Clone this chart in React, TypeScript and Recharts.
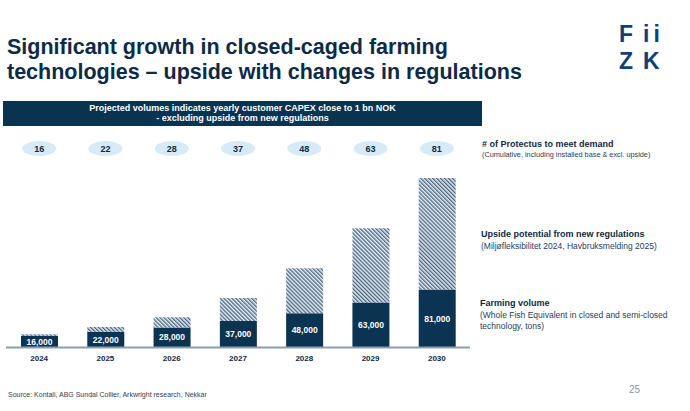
import React from "react";
import { Bar, ComposedChart, LabelList, XAxis, YAxis } from "recharts";

const years = ["2024", "2025", "2026", "2027", "2028", "2029", "2030"];
const farmingVolume = [16000, 22000, 28000, 37000, 48000, 63000, 81000];
const upsidePotential = [2600, 6800, 14300, 32300, 62700, 103600, 155900];
const protectusCount = [16, 22, 28, 37, 48, 63, 81];

const data = years.map((year, i) => ({
  year,
  farming: farmingVolume[i],
  upside: upsidePotential[i],
  protectus: protectusCount[i],
}));

const NAVY = "#0b3352";
const TEXT = "#0d2a47";
const FONT = "'Liberation Sans', Arial, sans-serif";

const OvalTick = (props: any) => {
  const { x, y, payload } = props;
  return (
    <g transform={`translate(${x},${y - 12})`}>
      <ellipse cx={0} cy={0} rx={17} ry={7.5} fill="#d6eaf8" />
      <text x={0} y={3.5} textAnchor="middle" fontSize={9} fontWeight="bold" fill={TEXT} fontFamily={FONT}>
        {payload.value}
      </text>
    </g>
  );
};

const YearTick = (props: any) => {
  const { x, y, payload } = props;
  return (
    <text x={x} y={y + 5} textAnchor="middle" fontSize={8} fontWeight="bold" fill={TEXT} fontFamily={FONT}>
      {payload.value}
    </text>
  );
};

const logoLetter = (text: string, left: number, top: number, spacing = 0) => (
  <div
    style={{
      position: "absolute",
      left,
      top,
      color: "#123f78",
      fontSize: 23,
      fontWeight: "bold",
      lineHeight: "23px",
      letterSpacing: spacing,
    }}
  >
    {text}
  </div>
);

export default function App() {
  return (
    <div style={{ position: "absolute", left: 0, top: 0, width: 690, height: 411, background: "#fff", fontFamily: FONT, color: TEXT }}>
      <div style={{ position: "absolute", left: 7, top: 35, fontSize: 21.5, fontWeight: "bold", lineHeight: "25px", whiteSpace: "nowrap" }}>
        Significant growth in closed-caged farming
        <br />
        technologies – upside with changes in regulations
      </div>
      {logoLetter("F", 619, 23)}
      {logoLetter("ii", 643, 23, 4)}
      {logoLetter("Z", 619, 50)}
      {logoLetter("K", 643, 50)}
      <div
        style={{
          position: "absolute",
          left: 3,
          top: 101,
          width: 479,
          height: 25,
          background: "#0a3350",
          color: "#fff",
          fontSize: 9,
          fontWeight: "bold",
          textAlign: "center",
          lineHeight: "10px",
          paddingTop: 2,
          boxSizing: "border-box",
        }}
      >
        Projected volumes indicates yearly customer CAPEX close to 1 bn NOK
        <br />- excluding upside from new regulations
      </div>

      <ComposedChart
        width={690}
        height={411}
        data={data}
        margin={{ top: 138.5, right: 220, bottom: 33.5, left: 6 }}
        style={{ position: "absolute", left: 0, top: 0 }}
      >
        <defs>
          <pattern id="hatch" patternUnits="userSpaceOnUse" width={2.8} height={2.8} patternTransform="rotate(-45)">
            <rect width={2.8} height={2.8} fill="#e6edf3" />
            <rect width={1.3} height={2.8} fill="#4a6580" />
          </pattern>
        </defs>
        <XAxis
          dataKey="year"
          xAxisId="bottom"
          tickLine={false}
          axisLine={{ stroke: "#8d9dab", strokeWidth: 2 }}
          tick={<YearTick />}
          interval={0}
        />
        <XAxis
          dataKey="protectus"
          xAxisId="top"
          orientation="top"
          tickLine={false}
          axisLine={false}
          tick={<OvalTick />}
          interval={0}
        />
        <YAxis hide domain={[0, 250000]} />
        <Bar dataKey="farming" stackId="a" xAxisId="bottom" fill={NAVY} barSize={37} isAnimationActive={false}>
          <LabelList
            dataKey="farming"
            position="center"
            formatter={(v: any) => Number(v).toLocaleString("en-US")}
            fill="#ffffff"
            fontSize={8.5}
            fontWeight="bold"
            fontFamily={FONT}
          />
        </Bar>
        <Bar dataKey="upside" stackId="a" xAxisId="bottom" fill="url(#hatch)" barSize={37} isAnimationActive={false} />
      </ComposedChart>

      <div style={{ position: "absolute", left: 482, top: 139, fontSize: 9, fontWeight: "bold", lineHeight: "11px" }}>
        # of Protectus to meet demand
      </div>
      <div style={{ position: "absolute", left: 482, top: 150, fontSize: 7.3, lineHeight: "9px", color: "#1f4060", whiteSpace: "nowrap" }}>
        (Cumulative, including installed base &amp; excl. upside)
      </div>
      <div style={{ position: "absolute", left: 481, top: 229, fontSize: 9, fontWeight: "bold", lineHeight: "11px" }}>
        Upside potential from new regulations
      </div>
      <div style={{ position: "absolute", left: 481, top: 241, fontSize: 8.5, lineHeight: "11px", color: "#1f4060" }}>
        (Miljøfleksibilitet 2024, Havbruksmelding 2025)
      </div>
      <div style={{ position: "absolute", left: 480, top: 298, fontSize: 9, fontWeight: "bold", lineHeight: "11px" }}>
        Farming volume
      </div>
      <div style={{ position: "absolute", left: 480, top: 310, width: 210, fontSize: 8.5, lineHeight: "11px", color: "#1f4060" }}>
        (Whole Fish Equivalent in closed and semi-closed
        <br />
        technology, tons)
      </div>

      <div style={{ position: "absolute", left: 8, top: 391, fontSize: 7, color: "#2c4258", whiteSpace: "nowrap" }}>
        Source: Kontali, ABG Sundal Collier, Arkwright research, Nekkar
      </div>
      <div style={{ position: "absolute", left: 629, top: 384, fontSize: 10, color: "#8a96a3" }}>25</div>
    </div>
  );
}
